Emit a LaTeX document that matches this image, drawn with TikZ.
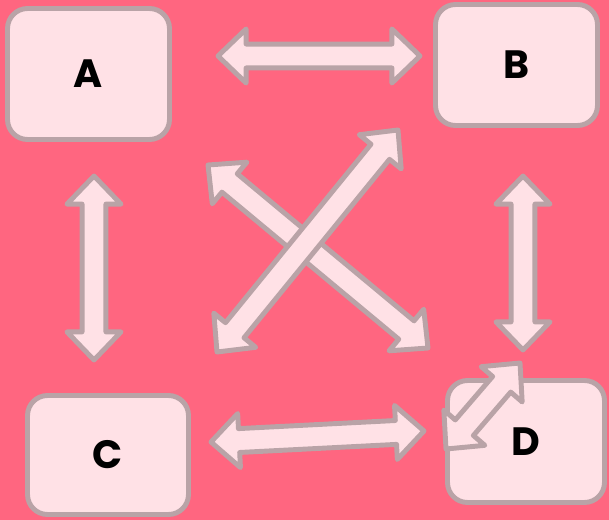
\documentclass[tikz,border=0pt]{standalone}
\usepackage{fontspec}
\setmainfont{Poppins}
\usetikzlibrary{calc}

\definecolor{bgpink}{HTML}{FF6680}
\definecolor{boxfill}{HTML}{FFE1E6}
\definecolor{boxline}{HTML}{B9A3A7}

\tikzset{
  block/.style={rectangle, rounded corners=0.4cm, draw=boxline, fill=boxfill,
    line width=2.8pt, inner sep=0pt, font=\fontsize{22.5}{26}\selectfont\bfseries},
  blockarrow/.style={draw=boxline, fill=boxfill, line width=2.8pt, line join=round}
}

% sizes of the two-headed block arrows
\newcommand{\headlen}{16pt}
\newcommand{\headwd}{15.4pt}
\newcommand{\shaftwd}{6.8pt}
\newcommand{\dblarrow}[2]{%
  \path[blockarrow] let \p1=($(#2)-(#1)$), \n1={atan2(\y1,\x1)} in
    (#1) -- ($(#1)+(\n1:\headlen)+(\n1+90:\headwd)$)
    -- ($(#1)+(\n1:\headlen)+(\n1+90:\shaftwd)$)
    -- ($(#2)+(\n1+180:\headlen)+(\n1+90:\shaftwd)$)
    -- ($(#2)+(\n1+180:\headlen)+(\n1+90:\headwd)$)
    -- (#2)
    -- ($(#2)+(\n1+180:\headlen)+(\n1-90:\headwd)$)
    -- ($(#2)+(\n1+180:\headlen)+(\n1-90:\shaftwd)$)
    -- ($(#1)+(\n1:\headlen)+(\n1-90:\shaftwd)$)
    -- ($(#1)+(\n1:\headlen)+(\n1-90:\headwd)$)
    -- cycle;}

\begin{document}
\begin{tikzpicture}[x=0.02cm, y=-0.02cm]
  \fill[bgpink] (0,0) rectangle (609,520);

  \node[block, minimum width=3.24cm, minimum height=2.62cm] (A) at (88.5,74) {A};
  \node[block, minimum width=3.24cm, minimum height=2.42cm] (B) at (516.5,65) {B};
  \node[block, minimum width=3.22cm, minimum height=2.38cm] (C) at (108,455) {C};
  \node[block, minimum width=3.14cm, minimum height=2.44cm] (D) at (526,441.5) {D};

  % free ends of the arrows
  \coordinate (ab1) at (218,56);  \coordinate (ab2) at (420,56);
  \coordinate (ac1) at (94,176);  \coordinate (ac2) at (94,360);
  \coordinate (bd1) at (523,176); \coordinate (bd2) at (523,350);
  \coordinate (cd1) at (211,442); \coordinate (cd2) at (424,431);
  \coordinate (ad1) at (208,165); \coordinate (ad2) at (428,348);
  \coordinate (cb1) at (217,352); \coordinate (cb2) at (398,130);
  \coordinate (dd1) at (446,449); \coordinate (dd2) at (520,363);

  \dblarrow{ab1}{ab2}
  \dblarrow{ac1}{ac2}
  \dblarrow{bd1}{bd2}
  \dblarrow{cd1}{cd2}
  \dblarrow{ad1}{ad2}
  \dblarrow{cb1}{cb2}
  \dblarrow{dd1}{dd2}
\end{tikzpicture}
\end{document}
